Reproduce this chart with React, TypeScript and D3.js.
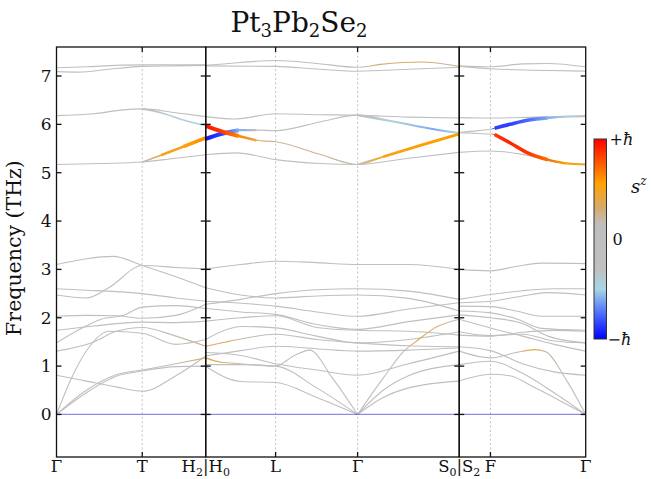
import React from "react";
import * as d3 from "d3";

type Pt = [number, number];
interface Band { id: string; pts: Pt[]; s?: number[]; w?: number }
interface Overlay { id: string; from: number; to: number; w: number }

// path-length fractions of each panel and of the high-symmetry points
const PANEL_K: [number, number][] = [[0, 0.282], [0.282, 0.761], [0.761, 1]];
const TICK_K = [0, 0.162, 0.282, 0.414, 0.569, 0.761, 0.82, 1];
const TICK_LABELS: [string, string][][] = [
  [["Γ", ""]],
  [["T", ""]],
  [["H", "2"], ["|H", "0"]],
  [["L", ""]],
  [["Γ", ""]],
  [["S", "0"], ["|S", "2"]],
  [["F", ""]],
  [["Γ", ""]],
];
const DASHED_K = [0.162, 0.414, 0.569, 0.82];
const Y_TICKS = [0, 1, 2, 3, 4, 5, 6, 7];
const Y_DOMAIN: [number, number] = [-0.88, 7.6];

// Panel 1: Γ (t=0) – T (t=0.575) – H2 (t=1)
const BANDS_P1: Band[] = [
  { id: "p1h1", pts: [[0, 7.17], [0.2, 7.19], [0.4, 7.22], [0.575, 7.23], [0.8, 7.23], [1, 7.23]] },
  { id: "p1h2", pts: [[0, 7.09], [0.15, 7.08], [0.35, 7.14], [0.575, 7.2], [0.8, 7.21], [1, 7.22]] },
  { id: "p1h3", pts: [[0, 6.18], [0.25, 6.22], [0.45, 6.3], [0.575, 6.32], [0.8, 6.24], [1, 6.16]] },
  { id: "p1h4", pts: [[0.575, 6.32], [0.7, 6.24], [0.85, 6.09], [1, 5.97]], s: [0, -0.35, -0.45, -0.5], w: 1.6 },
  { id: "p1h5", pts: [[0, 5.17], [0.3, 5.19], [0.575, 5.22], [0.8, 5.3], [1, 5.37]] },
  { id: "p1h6", pts: [[0.575, 5.22], [0.7, 5.36], [0.85, 5.54], [1, 5.72]], s: [0.1, 0.45, 0.55, 0.62], w: 1.5 },
  { id: "p1l1", pts: [[0, 3.1], [0.2, 3.22], [0.38, 3.27], [0.575, 3.08], [0.8, 2.85], [1, 2.62]] },
  { id: "p1l2", pts: [[0, 2.47], [0.2, 2.41], [0.35, 2.62], [0.575, 3.08], [0.8, 3.04], [1, 3.01]] },
  { id: "p1l3", pts: [[0, 2.6], [0.2, 2.57], [0.4, 2.54], [0.575, 2.5], [0.8, 2.41], [1, 2.34]] },
  { id: "p1l4", pts: [[0, 2.03], [0.2, 2.05], [0.4, 2.04], [0.575, 1.99], [0.8, 2.05], [1, 2.28]] },
  { id: "p1l5", pts: [[0, 1.48], [0.15, 1.75], [0.3, 1.97], [0.45, 2.05], [0.575, 2.22], [0.8, 2.25], [1, 2.19]] },
  { id: "p1l6", pts: [[0, 1.74], [0.25, 1.83], [0.575, 1.91], [0.8, 1.9], [1, 1.93]] },
  { id: "p1l7", pts: [[0, 1.31], [0.25, 1.5], [0.4, 1.72], [0.575, 1.8], [0.8, 1.62], [1, 1.41]], s: [0, 0, 0, 0, 0.15, 0.3] },
  { id: "p1l8", pts: [[0, 0], [0.1, 0.75], [0.22, 1.4], [0.35, 1.72], [0.575, 1.68], [0.8, 1.45], [1, 1.55]], s: [0, 0, 0, 0, 0, -0.2, -0.35] },
  { id: "p1l9", pts: [[0, 0], [0.2, 0.45], [0.4, 0.79], [0.575, 0.9], [0.8, 0.99], [1, 1.0]] },
  { id: "p1l10", pts: [[0, 0.81], [0.2, 0.69], [0.4, 0.57], [0.575, 0.48], [0.8, 0.8], [1, 1.21]] },
  { id: "p1l11", pts: [[0, 0], [0.2, 0.5], [0.4, 0.82], [0.575, 0.92], [0.8, 1.05], [1, 1.17]], s: [0, 0, 0, 0, 0.15, 0.35] },
];

// Panel 2: H0 (t=0) – L (t=0.276) – Γ (t=0.599) – S0 (t=1)
const BANDS_P2: Band[] = [
  { id: "p2h1", pts: [[0, 7.22], [0.138, 7.28], [0.276, 7.32], [0.438, 7.26], [0.599, 7.18], [0.69, 7.24], [0.85, 7.29], [1, 7.2]], s: [0, 0, 0.05, 0.1, 0.15, 0.3, 0.32, 0.2] },
  { id: "p2h2", pts: [[0, 7.21], [0.276, 7.2], [0.45, 7.14], [0.599, 7.1], [0.8, 7.14], [1, 7.18]] },
  { id: "p2h3", pts: [[0, 6.16], [0.11, 6.11], [0.276, 6.22], [0.45, 6.2], [0.599, 6.19], [0.8, 6.15], [1, 6.13]] },
  { id: "p2h4", pts: [[0, 5.7], [0.06, 5.8], [0.13, 5.88], [0.2, 5.88], [0.276, 5.87], [0.45, 6.05], [0.599, 6.19], [0.75, 6.05], [0.9, 5.9], [1, 5.82]], s: [-0.95, -0.85, -0.6, -0.3, 0, 0, -0.05, -0.45, -0.6, -0.5] },
  { id: "p2h5", pts: [[0, 5.97], [0.06, 5.86], [0.13, 5.76], [0.2, 5.67], [0.276, 5.64], [0.45, 5.38], [0.599, 5.17], [0.7, 5.33], [0.85, 5.57], [1, 5.8]], s: [0.95, 0.85, 0.65, 0.4, 0.2, 0.25, 0.1, 0.5, 0.57, 0.57] },
  { id: "p2h6", pts: [[0, 5.37], [0.12, 5.41], [0.276, 5.27], [0.45, 5.19], [0.599, 5.17], [0.8, 5.3], [1, 5.42]] },
  { id: "p2l1", pts: [[0, 3.01], [0.138, 3.1], [0.276, 3.17], [0.438, 3.14], [0.599, 3.1], [0.8, 3.1], [1, 3.0]] },
  { id: "p2l2", pts: [[0, 2.62], [0.138, 2.47], [0.276, 2.41], [0.438, 2.45], [0.599, 2.47], [0.8, 2.4], [1, 2.14]] },
  { id: "p2l3", pts: [[0, 2.28], [0.138, 2.38], [0.276, 2.5], [0.438, 2.58], [0.599, 2.6], [0.8, 2.55], [1, 2.38]] },
  { id: "p2l4", pts: [[0, 2.34], [0.138, 2.3], [0.276, 2.24], [0.438, 2.12], [0.599, 2.03], [0.8, 2.18], [1, 2.31]] },
  { id: "p2l5", pts: [[0, 2.19], [0.138, 2.12], [0.276, 2.07], [0.438, 1.86], [0.599, 1.76], [0.8, 1.92], [1, 2.06]] },
  { id: "p2l6", pts: [[0, 1.93], [0.138, 2.0], [0.276, 2.04], [0.438, 1.8], [0.599, 1.74], [0.8, 1.72], [1, 1.64]] },
  { id: "p2l7", pts: [[0, 1.55], [0.08, 1.75], [0.138, 1.82], [0.276, 1.79], [0.438, 1.62], [0.599, 1.48], [0.8, 1.55], [1, 1.71]], s: [-0.4, -0.3, -0.1, 0, 0, 0, 0, 0] },
  { id: "p2l8", pts: [[0, 1.41], [0.08, 1.5], [0.138, 1.56], [0.276, 1.66], [0.438, 1.55], [0.599, 1.48], [0.8, 1.42], [1, 1.4]], s: [0.35, 0.35, 0.2, 0, 0, 0, 0, 0] },
  { id: "p2l9", pts: [[0, 1.21], [0.138, 1.32], [0.276, 1.41], [0.438, 1.36], [0.599, 1.31], [0.8, 1.33], [1, 1.38]] },
  { id: "p2l10", pts: [[0, 1.17], [0.06, 1.08], [0.138, 1.05], [0.276, 1.0], [0.35, 1.22], [0.41, 1.33], [0.5, 0.75], [0.599, 0]], s: [0.35, 0.35, 0.1, 0, 0, 0, 0, 0] },
  { id: "p2l11", pts: [[0, 1.03], [0.138, 1.03], [0.276, 1.0], [0.438, 0.55], [0.599, 0]] },
  { id: "p2l12", pts: [[0, 0.99], [0.1, 0.72], [0.138, 0.68], [0.276, 0.66], [0.438, 0.35], [0.599, 0]] },
  { id: "p2l13", pts: [[0, 1.28], [0.138, 1.22], [0.276, 1.05], [0.438, 0.92], [0.599, 0.81], [0.8, 1.05], [1, 1.31]] },
  { id: "p2l14", pts: [[0.599, 0], [0.7, 0.75], [0.78, 1.3], [0.84, 1.55], [0.9, 1.78], [1, 1.97]], s: [0, 0, 0.1, 0.4, 0.3, 0] },
  { id: "p2l15", pts: [[0.599, 0], [0.7, 0.35], [0.8, 0.55], [1, 0.69]] },
  { id: "p2l16", pts: [[0.599, 0], [0.7, 0.5], [0.8, 0.8], [1, 1.03]] },
];

// Panel 3: S2 (t=0) – F (t=0.247) – Γ (t=1)
const BANDS_P3: Band[] = [
  { id: "p3h1", pts: [[0, 7.21], [0.247, 7.19], [0.5, 7.25], [0.7, 7.26], [1, 7.19]] },
  { id: "p3h2", pts: [[0, 7.2], [0.247, 7.15], [0.6, 7.12], [1, 7.1]] },
  { id: "p3h3", pts: [[0, 6.14], [0.247, 6.13], [0.6, 6.15], [1, 6.17]] },
  { id: "p3h4", pts: [[0, 5.83], [0.15, 5.87], [0.247, 5.9], [0.28, 5.92], [0.4, 6.0], [0.55, 6.09], [0.7, 6.13], [0.85, 6.16], [1, 6.17]], s: [0, 0, 0, -0.85, -0.85, -0.75, -0.6, -0.45, -0.3] },
  { id: "p3h5", pts: [[0, 5.83], [0.15, 5.81], [0.247, 5.8], [0.28, 5.79], [0.4, 5.62], [0.55, 5.4], [0.7, 5.27], [0.85, 5.19], [1, 5.17]], s: [0, 0, 0, 0.85, 0.9, 0.85, 0.7, 0.55, 0.45] },
  { id: "p3h6", pts: [[0, 5.42], [0.247, 5.45], [0.5, 5.38], [0.75, 5.23], [1, 5.17]] },
  { id: "p3l1", pts: [[0, 3.0], [0.247, 2.97], [0.45, 3.06], [0.65, 3.13], [1, 3.12]] },
  { id: "p3l2", pts: [[0, 2.38], [0.247, 2.48], [0.5, 2.56], [0.75, 2.6], [1, 2.6]] },
  { id: "p3l3", pts: [[0, 2.31], [0.247, 2.34], [0.5, 2.45], [0.7, 2.52], [1, 2.47]] },
  { id: "p3l4", pts: [[0, 2.24], [0.247, 2.23], [0.45, 2.14], [0.65, 2.03], [1, 2.03]] },
  { id: "p3l5", pts: [[0, 2.14], [0.247, 2.1], [0.45, 1.98], [0.65, 1.78], [1, 1.74]] },
  { id: "p3l6", pts: [[0, 2.06], [0.247, 2.0], [0.5, 1.88], [0.7, 1.62], [1, 1.48]] },
  { id: "p3l7", pts: [[0, 1.97], [0.247, 1.79], [0.5, 1.62], [0.75, 1.45], [1, 1.31]] },
  { id: "p3l8", pts: [[0, 1.64], [0.247, 1.62], [0.5, 1.7], [0.75, 1.74], [1, 1.72]] },
  { id: "p3l9", pts: [[0, 1.71], [0.247, 1.63], [0.5, 1.66], [0.75, 1.52], [1, 1.48]] },
  { id: "p3l10", pts: [[0, 1.31], [0.247, 1.17], [0.45, 1.28], [0.6, 1.34], [0.68, 1.3], [0.85, 0.7], [1, 0]], s: [0, 0, 0.2, 0.4, 0.2, 0, 0] },
  { id: "p3l11", pts: [[0, 1.4], [0.247, 1.32], [0.5, 1.05], [0.75, 0.88], [1, 0.81]] },
  { id: "p3l12", pts: [[0, 1.03], [0.247, 1.1], [0.5, 0.85], [0.75, 0.45], [1, 0]] },
  { id: "p3l13", pts: [[0, 0.69], [0.247, 0.83], [0.4, 0.8], [0.6, 0.55], [0.8, 0.28], [1, 0]] },
];

// thick strokes where |s^z| is large (knot index ranges of a band)
const OVERLAYS: Overlay[] = [
  { id: "p1h6", from: 1, to: 2, w: 2.6 },
  { id: "p1h6", from: 2, to: 3, w: 3.6 },
  { id: "p2h4", from: 0, to: 2, w: 4 },
  { id: "p2h4", from: 2, to: 3, w: 2.4 },
  { id: "p2h4", from: 6, to: 9, w: 2 },
  { id: "p2h5", from: 0, to: 2, w: 4 },
  { id: "p2h5", from: 2, to: 3, w: 2.4 },
  { id: "p2h5", from: 6, to: 7, w: 1.8 },
  { id: "p2h5", from: 7, to: 9, w: 2.8 },
  { id: "p3h4", from: 3, to: 6, w: 3.6 },
  { id: "p3h4", from: 6, to: 8, w: 2 },
  { id: "p3h5", from: 3, to: 6, w: 3.6 },
  { id: "p3h5", from: 6, to: 8, w: 2.2 },
];

const CMAP_DOMAIN = [-1, -0.75, -0.5, -0.3, 0.15, 0.32, 0.56, 1];
const CMAP_RANGE = ["#0000ff", "#4a6cff", "#a8d6e4", "#c0c0c0", "#bebebe", "#d8aa68", "#ffa200", "#ff0000"];

const W = 652, H = 479;
const PL = 56.5, PR = 585.7, PT = 47, PB = 457;
const CB = { x: 594, y: 139, w: 12.5, h: 200 };
const FONT = "DejaVu Serif";

export default function App() {
  const x = d3.scaleLinear().domain([0, 1]).range([PL, PR]);
  const y = d3.scaleLinear().domain(Y_DOMAIN).range([PB, PT]);
  const cmap = d3.scaleLinear<string>().domain(CMAP_DOMAIN).range(CMAP_RANGE).interpolate(d3.interpolateRgb);
  const panels = [BANDS_P1, BANDS_P2, BANDS_P3];

  const kx = (p: number, t: number) => x(PANEL_K[p][0] + t * (PANEL_K[p][1] - PANEL_K[p][0]));
  const bandById: Record<string, { b: Band; p: number }> = {};
  panels.forEach((bs, p) => bs.forEach((b) => (bandById[b.id] = { b, p })));

  const lineFor = (p: number) =>
    d3.line<Pt>().x((d) => kx(p, d[0])).y((d) => y(d[1])).curve(d3.curveMonotoneX);

  const gradDefs: React.ReactNode[] = [];
  const paths: React.ReactNode[] = [];
  panels.forEach((bs, p) => {
    bs.forEach((b) => {
      let stroke = cmap(0);
      if (b.s) {
        const x1 = kx(p, b.pts[0][0]);
        const x2 = kx(p, b.pts[b.pts.length - 1][0]);
        gradDefs.push(
          <linearGradient key={b.id} id={"g-" + b.id} gradientUnits="userSpaceOnUse" x1={x1} x2={x2} y1={0} y2={0}>
            {b.pts.map((pt, i) => (
              <stop key={i} offset={(kx(p, pt[0]) - x1) / (x2 - x1)} stopColor={cmap(b.s![i])} />
            ))}
          </linearGradient>
        );
        stroke = `url(#g-${b.id})`;
      }
      paths.push(
        <path key={b.id} d={lineFor(p)(b.pts) || ""} fill="none" stroke={stroke} strokeWidth={b.w ?? 1.1} />
      );
    });
  });
  const overlays = OVERLAYS.map((o, i) => {
    const { b, p } = bandById[o.id];
    return (
      <path key={"o" + i} d={lineFor(p)(b.pts.slice(o.from, o.to + 1)) || ""} fill="none"
        stroke={`url(#g-${b.id})`} strokeWidth={o.w} strokeLinecap="butt" />
    );
  });

  const cbScale = d3.scaleLinear().domain([-1, 1]).range([CB.y + CB.h, CB.y]);

  return (
    <svg width={W} height={H} style={{ position: "absolute", left: 0, top: 0 }} fontFamily={FONT}>
      <defs>
        {gradDefs}
        <linearGradient id="cbar" x1={0} x2={0} y1={1} y2={0}>
          {CMAP_DOMAIN.map((v, i) => (
            <stop key={i} offset={(v + 1) / 2} stopColor={CMAP_RANGE[i]} />
          ))}
        </linearGradient>
        <clipPath id="plotclip"><rect x={PL} y={PT} width={PR - PL} height={PB - PT} /></clipPath>
      </defs>
      <rect width={W} height={H} fill="white" />

      {/* dashed verticals */}
      {DASHED_K.map((k, i) => (
        <line key={i} x1={x(k)} x2={x(k)} y1={PT} y2={PB} stroke="#b8b8b8" strokeWidth={0.8} strokeDasharray="2.2,2.2" />
      ))}

      <g clipPath="url(#plotclip)">
        {paths}
        {overlays}
        <line x1={PL} x2={PR} y1={y(0)} y2={y(0)} stroke="#1818c8" strokeWidth={1.3} strokeDasharray="1,1" />
      </g>

      {/* panel frames and ticks */}
      {PANEL_K.map((pk, p) => {
        const x0 = x(pk[0]), x1 = x(pk[1]);
        const inner = TICK_K.filter((k) => k > pk[0] + 1e-6 && k < pk[1] - 1e-6);
        return (
          <g key={p} stroke="#111" strokeWidth={1.3}>
            <rect x={x0} y={PT} width={x1 - x0} height={PB - PT} fill="none" />
            {Y_TICKS.map((v) => (
              <g key={v}>
                <line x1={x0} x2={x0 + 5} y1={y(v)} y2={y(v)} />
                <line x1={x1} x2={x1 - 5} y1={y(v)} y2={y(v)} />
              </g>
            ))}
            {inner.map((k) => (
              <g key={k}>
                <line x1={x(k)} x2={x(k)} y1={PT} y2={PT + 5} />
                <line x1={x(k)} x2={x(k)} y1={PB} y2={PB - 5} />
              </g>
            ))}
          </g>
        );
      })}

      {/* y tick labels */}
      {Y_TICKS.map((v) => (
        <text key={v} x={PL - 5} y={y(v) + 6} textAnchor="end" fontSize={17} fill="#111">{v}</text>
      ))}

      {/* x tick labels */}
      {TICK_K.map((k, i) => {
        const parts = TICK_LABELS[i];
        return (
          <text key={i} x={x(k)} y={472} textAnchor="middle" fontSize={16.5} fill="#111">
            {parts.map(([m, sub], j) => {
              const prevSub = j > 0 && parts[j - 1][1] !== "";
              return (
                <React.Fragment key={j}>
                  <tspan dy={prevSub ? -3.5 : 0}>{m}</tspan>
                  {sub ? <tspan fontSize={11} dy={3.5}>{sub}</tspan> : null}
                </React.Fragment>
              );
            })}
          </text>
        );
      })}

      {/* y label */}
      <text transform={`translate(21,${(PT + PB) / 2 - 4}) rotate(-90)`} textAnchor="middle" fontSize={20.5} fill="#111">
        Frequency (THz)
      </text>

      {/* title */}
      <text x={299} y={32} textAnchor="middle" fontSize={28} fill="#111">
        <tspan>Pt</tspan><tspan fontSize={18} dy={5}>3</tspan>
        <tspan dy={-5}>Pb</tspan><tspan fontSize={18} dy={5}>2</tspan>
        <tspan dy={-5}>Se</tspan><tspan fontSize={18} dy={5}>2</tspan>
      </text>

      {/* colorbar */}
      <rect x={CB.x} y={CB.y} width={CB.w} height={CB.h} fill="url(#cbar)" stroke="#333" strokeWidth={1} />
      <text x={CB.x + CB.w + 3} y={cbScale(1) + 6} fontSize={16} fill="#111">
        <tspan>+</tspan><tspan fontStyle="italic">ħ</tspan>
      </text>
      <text x={CB.x + CB.w + 6} y={cbScale(0) + 6} fontSize={16} fill="#111">0</text>
      <text x={CB.x + CB.w + 1} y={cbScale(-1) + 6} fontSize={16} fill="#111">
        <tspan>−</tspan><tspan fontStyle="italic">ħ</tspan>
      </text>
      <text x={631} y={193} fontSize={18} fill="#111">
        <tspan fontStyle="italic">s</tspan><tspan fontStyle="italic" fontSize={12} dy={-8}>z</tspan>
      </text>
    </svg>
  );
}
